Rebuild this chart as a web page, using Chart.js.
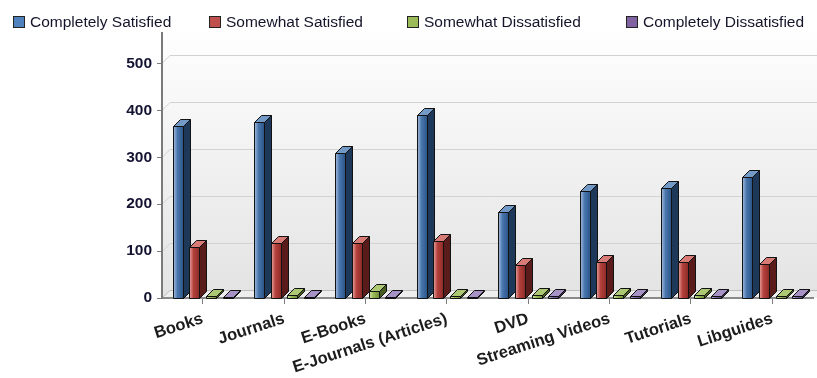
<!DOCTYPE html>
<html>
<head>
<meta charset="utf-8">
<title>Satisfaction by resource</title>
<script src="https://cdn.jsdelivr.net/npm/chart.js@4/dist/chart.umd.min.js"></script>
<style>
  html, body { margin: 0; padding: 0; background: #fff; }
  #wrap { position: relative; width: 817px; height: 378px; overflow: hidden; }
  #chart { position: absolute; left: 0; top: 0; }
  #legend {
    position: absolute; left: 0; top: 13px; width: 817px; height: 20px; z-index: 2;
    font: 15.5px Arial, "Liberation Sans", sans-serif; color: #14142a;
  }
  #legend .item { position: absolute; top: 0; display: flex; align-items: center; white-space: nowrap; }
  #legend .box { width: 10px; height: 10px; border: 1px solid #222; margin-right: 5px; }
</style>
</head>
<body>
<div id="wrap">
  <div id="legend"></div>
  <canvas id="chart" width="817" height="378"></canvas>
</div>
<script>
// ── Data ────────────────────────────────────────────────────
const categories = ['Books', 'Journals', 'E-Books', 'E-Journals (Articles)', 'DVD', 'Streaming Videos', 'Tutorials', 'Libguides'];
const seriesNames = ['Completely Satisfied', 'Somewhat Satisfied', 'Somewhat Dissatisfied', 'Completely Dissatisfied'];
const completelySatisfied    = [367, 376, 310, 390, 184, 229, 234, 257];
const somewhatSatisfied      = [108, 118, 118, 121,  70,  76,  77,  73];
const somewhatDissatisfied   = [  5,   7,  15,   5,   6,   6,   6,   5];
const completelyDissatisfied = [  2,   2,   1,   1,   4,   4,   5,   5];
const yTicks = [0, 100, 200, 300, 400, 500];

// ── Palette: swatch, front gradient (light/mid/dark), side, top ──
const palette = [
  { swatch: '#4f81bd', light: '#a3bbdb', mid: '#4a76ae', dark: '#2a5487', side: '#1d3858', top: '#7399c7' },
  { swatch: '#c0504d', light: '#e6a09d', mid: '#b5413d', dark: '#8c2926', side: '#5a1c1a', top: '#d87b77' },
  { swatch: '#9bbb59', light: '#cfe2a6', mid: '#97b857', dark: '#6d8b35', side: '#485c21', top: '#adc872' },
  { swatch: '#8064a2', light: '#c2b2da', mid: '#8064a2', dark: '#5c4580', side: '#3a2a52', top: '#a792c6' },
];
const legendLeft = [13, 209, 407, 626];

const DEPTH = 7;   // bar depth offset (px, right and up)
const WALL  = 8;   // back wall offset

// ── HTML legend ─────────────────────────────────────────────
const legend = document.getElementById('legend');
seriesNames.forEach((name, i) => {
  const item = document.createElement('div');
  item.className = 'item';
  item.style.left = legendLeft[i] + 'px';
  item.innerHTML = '<span class="box" style="background:' + palette[i].swatch + '"></span><span>' + name + '</span>';
  legend.appendChild(item);
});

// ── Walls, floor and back gridlines ─────────────────────────
const backdrop = {
  id: 'backdrop',
  beforeDraw(chart) {
    const { ctx, chartArea: a, scales: { y } } = chart;
    const base = y.getPixelForValue(0);
    const right = chart.width;
    ctx.save();

    // back wall + left side wall
    const g = ctx.createLinearGradient(0, a.top - WALL, 0, base);
    g.addColorStop(0, '#ffffff');
    g.addColorStop(1, '#e3e3e3');
    ctx.fillStyle = g;
    ctx.beginPath();
    ctx.moveTo(a.left, a.top);
    ctx.lineTo(a.left + WALL, a.top - WALL);
    ctx.lineTo(right, a.top - WALL);
    ctx.lineTo(right, base - WALL + 1);
    ctx.lineTo(a.left + WALL, base - WALL + 1);
    ctx.lineTo(a.left, base);
    ctx.closePath();
    ctx.fill();

    // floor
    ctx.fillStyle = '#eeeeee';
    ctx.strokeStyle = '#bdbdbd';
    ctx.lineWidth = 1;
    ctx.beginPath();
    ctx.moveTo(a.left, base);
    ctx.lineTo(a.left + WALL, base - WALL);
    ctx.lineTo(right, base - WALL);
    ctx.lineTo(right, base);
    ctx.closePath();
    ctx.fill();
    ctx.beginPath();
    ctx.moveTo(a.left, base);
    ctx.lineTo(a.left + WALL, base - WALL + 0.5);
    ctx.lineTo(right, base - WALL + 0.5);
    ctx.stroke();

    // gridlines on side wall and back wall
    ctx.strokeStyle = '#d2d2d2';
    yTicks.slice(1).forEach(v => {
      const py = Math.round(y.getPixelForValue(v)) + 0.5;
      ctx.beginPath();
      ctx.moveTo(a.left, py);
      ctx.lineTo(a.left + WALL, py - WALL);
      ctx.lineTo(right, py - WALL);
      ctx.stroke();
    });
    ctx.restore();
  }
};

// ── 3D bars: front, side and top faces from each bar element ──
function drawBar(ctx, el, c) {
  const p = el.getProps(['x', 'y', 'base', 'width'], true);
  const l = Math.round(p.x - p.width / 2) + 0.5;
  const r = l + Math.round(p.width);
  const b = Math.round(p.base) + 0.5;
  const t = Math.min(Math.round(p.y) + 0.5, b - 1);

  ctx.lineWidth = 1;
  ctx.lineJoin = 'round';
  ctx.strokeStyle = '#121212';

  // side
  ctx.fillStyle = c.side;
  ctx.beginPath();
  ctx.moveTo(r, t);
  ctx.lineTo(r + DEPTH, t - DEPTH);
  ctx.lineTo(r + DEPTH, b - DEPTH);
  ctx.lineTo(r, b);
  ctx.closePath();
  ctx.fill(); ctx.stroke();

  // top
  ctx.fillStyle = c.top;
  ctx.beginPath();
  ctx.moveTo(l, t);
  ctx.lineTo(l + DEPTH, t - DEPTH);
  ctx.lineTo(r + DEPTH, t - DEPTH);
  ctx.lineTo(r, t);
  ctx.closePath();
  ctx.fill(); ctx.stroke();

  // front
  const g = ctx.createLinearGradient(l, 0, r, 0);
  g.addColorStop(0, c.light);
  g.addColorStop(0.4, c.mid);
  g.addColorStop(1, c.dark);
  ctx.fillStyle = g;
  ctx.fillRect(l, t, r - l, b - t);
  ctx.strokeRect(l, t, r - l, b - t);
}

const bars3d = {
  id: 'bars3d',
  beforeDatasetsDraw(chart) {
    const ctx = chart.ctx;
    const metas = chart.data.datasets.map((_, i) => chart.getDatasetMeta(i));
    ctx.save();
    for (let i = 0; i < categories.length; i++) {
      metas.forEach((m, d) => drawBar(ctx, m.data[i], palette[d]));
    }
    ctx.restore();
    return false; // faces are drawn above; skip the flat default bars
  }
};

// ── Chart ───────────────────────────────────────────────────
const series = [completelySatisfied, somewhatSatisfied, somewhatDissatisfied, completelyDissatisfied];

new Chart(document.getElementById('chart'), {
  type: 'bar',
  data: {
    labels: categories,
    datasets: series.map((values, i) => ({
      label: seriesNames[i],
      data: values,
      backgroundColor: palette[i].swatch,
      categoryPercentage: 0.82,
      barPercentage: 0.6,
    }))
  },
  options: {
    responsive: false,
    animation: false,
    devicePixelRatio: 1,
    layout: { padding: { top: 33, right: 4, left: 0, bottom: 0 } },
    plugins: { legend: { display: false }, tooltip: { enabled: false } },
    scales: {
      x: {
        grid: { offset: false, drawOnChartArea: false, drawTicks: true, tickLength: 6, color: '#7d7d7d' },
        border: { display: true, color: '#8a8a8a', width: 2 },
        ticks: { autoSkip: false, minRotation: 18, maxRotation: 18, padding: 5, color: '#1c1c1c',
                 font: { family: 'Arial', size: 16.5, weight: 'bold' } },
        afterFit(s) { s.height = 80; }
      },
      y: {
        min: 0, max: 565,
        grid: { drawOnChartArea: false, drawTicks: true, tickLength: 5, color: '#7d7d7d' },
        border: { display: true, color: '#7a7a7a', width: 2 },
        ticks: { stepSize: 100, padding: 5, color: '#141432',
                 font: { family: 'Arial', size: 15.5, weight: 'bold' } },
        afterBuildTicks(s) { s.ticks = yTicks.map(v => ({ value: v })); },
        afterFit(s) { s.width = 162; }
      }
    }
  },
  plugins: [backdrop, bars3d]
});
</script>
</body>
</html>
